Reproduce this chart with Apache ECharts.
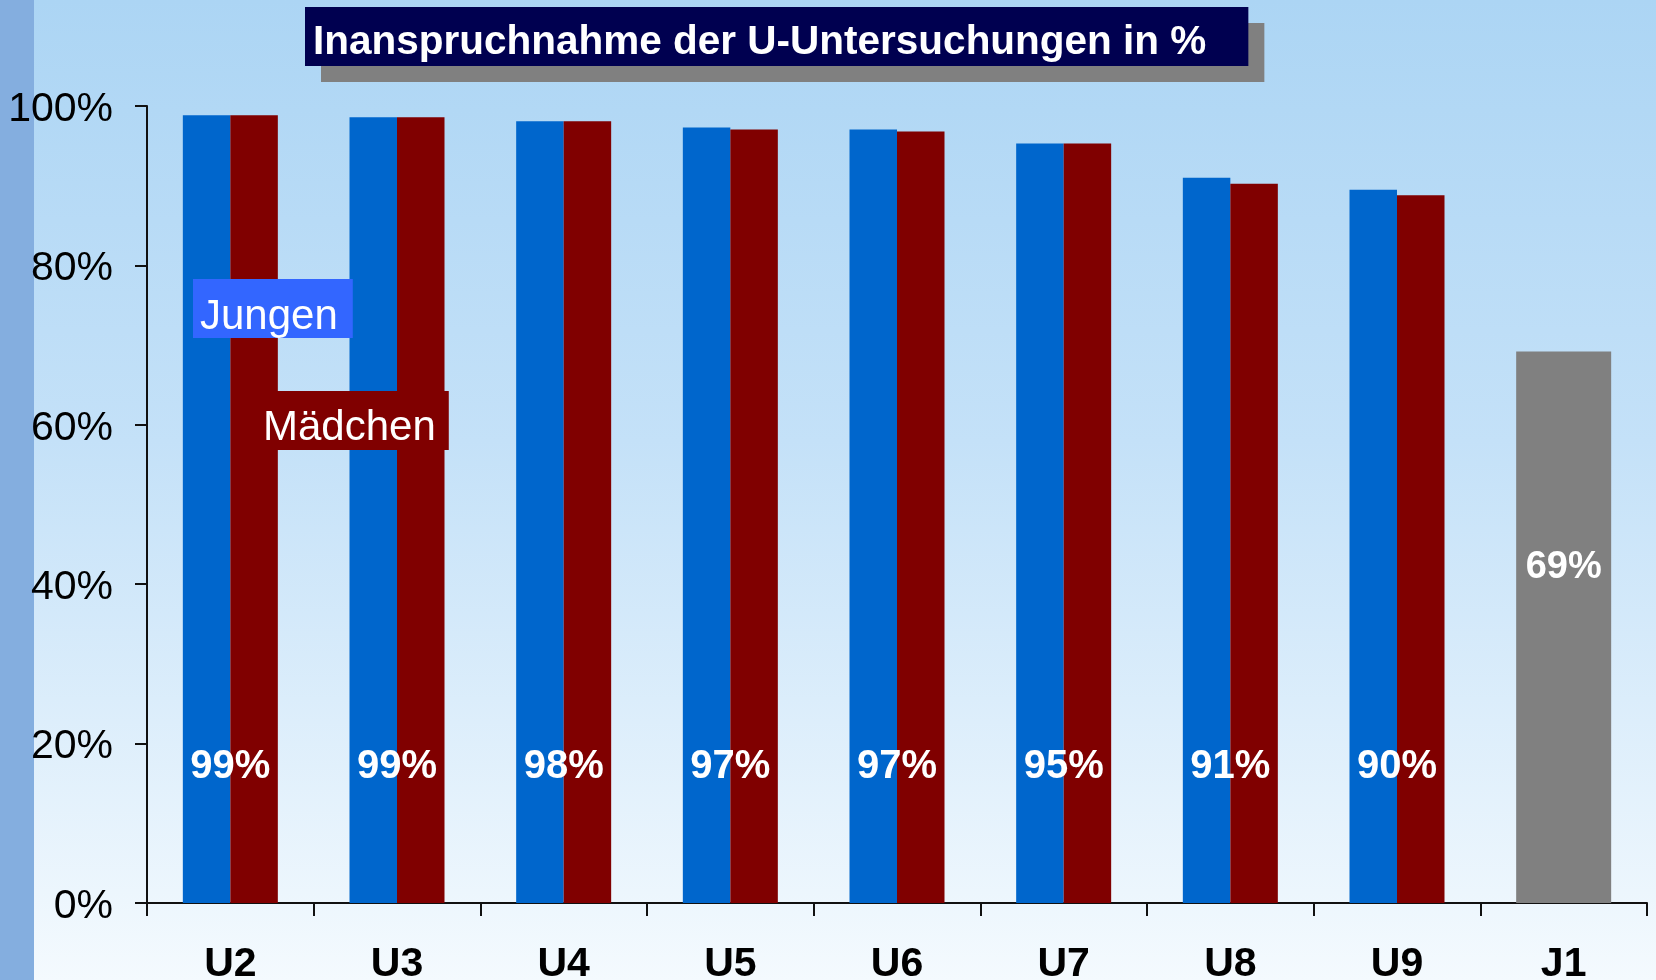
<!DOCTYPE html>
<html>
<head>
<meta charset="utf-8">
<script src="https://cdn.jsdelivr.net/npm/echarts@6/dist/echarts.min.js"></script>
<style>
  html, body { margin: 0; padding: 0; }
  body {
    width: 1656px; height: 980px; overflow: hidden;
    background:
      linear-gradient(to right, #84aedf 0px, #84aedf 34px, rgba(0,0,0,0) 34px),
      linear-gradient(to bottom, #acd5f4 0%, #c4e1f8 45%, #f4fafe 100%);
  }
  #chart { width: 1656px; height: 980px; }
</style>
</head>
<body>
<div id="chart"></div>
<script>
// ---- data ----
const titleText = 'Inanspruchnahme der U-Untersuchungen in %';
const categories = ['U2', 'U3', 'U4', 'U5', 'U6', 'U7', 'U8', 'U9', 'J1'];
const jungen   = [98.85, 98.6, 98.1, 97.3, 97.05, 95.3, 91.0, 89.5, null];
const maedchen = [98.85, 98.6, 98.1, 97.05, 96.8, 95.3, 90.25, 88.8, null];
const j1Values = [null, null, null, null, null, null, null, null, 69.2];
const labelValues = [99, 99, 98, 97, 97, 95, 91, 90, 69];
const yTicks = [0, 20, 40, 60, 80, 100];

const FONT = "'Liberation Sans', Arial, sans-serif";
const chart = echarts.init(document.getElementById('chart'), null, { renderer: 'canvas' });

const axisCommon = {
  type: 'category',
  data: categories,
  boundaryGap: true,
};

chart.setOption({
  backgroundColor: 'transparent',
  animation: false,
  title: {
    text: titleText,
    left: 305,
    top: 7,
    padding: [15, 42, 3, 8],
    backgroundColor: '#000050',
    shadowColor: '#808080',
    shadowBlur: 0,
    shadowOffsetX: 16,
    shadowOffsetY: 16,
    textStyle: { color: '#ffffff', fontSize: 40.5, fontWeight: 'bold', fontFamily: FONT }
  },
  legend: [
    {
      data: ['Jungen'], left: 193, top: 279, padding: [17, 15, 0, 2],
      backgroundColor: '#3366ff',
      itemWidth: 0, itemHeight: 0, icon: 'rect', selectedMode: false,
      textStyle: { color: '#ffffff', fontSize: 42, lineHeight: 42, fontFamily: FONT }
    },
    {
      data: ['Mädchen'], left: 257, top: 391, padding: [16, 13, 1, 1],
      backgroundColor: '#800000',
      itemWidth: 0, itemHeight: 0, icon: 'rect', selectedMode: false,
      textStyle: { color: '#ffffff', fontSize: 42, lineHeight: 42, fontFamily: FONT }
    }
  ],
  grid: { left: 147, right: 9, top: 106, bottom: 77, containLabel: false, outerBoundsMode: 'none' },
  xAxis: [
    Object.assign({}, axisCommon, {
      axisLine: { show: true, lineStyle: { color: '#111', width: 2 } },
      axisTick: { show: true, length: 13, lineStyle: { color: '#111', width: 2 } },
      axisLabel: { color: '#000', fontSize: 41, fontWeight: 'bold', fontFamily: FONT, margin: 41 },
      splitLine: { show: false }
    }),
    Object.assign({}, axisCommon, { show: false })
  ],
  yAxis: {
    type: 'value',
    min: 0, max: 100, interval: 20,
    axisLine: { show: true, lineStyle: { color: '#111', width: 2 } },
    axisTick: { show: true, length: 12, lineStyle: { color: '#111', width: 2 } },
    axisLabel: {
      color: '#000', fontSize: 41, fontFamily: FONT, margin: 34,
      verticalAlign: 'top', lineHeight: 7,
      formatter: function (v) { return yTicks.indexOf(v) >= 0 ? v + '%' : ''; }
    },
    splitLine: { show: false }
  },
  series: [
    {
      name: 'Jungen', type: 'bar', xAxisIndex: 0,
      data: jungen, barGap: '0%', barCategoryGap: '43%',
      itemStyle: { color: '#0066cc' }
    },
    {
      name: 'Mädchen', type: 'bar', xAxisIndex: 0,
      data: maedchen, barGap: '0%', barCategoryGap: '43%',
      itemStyle: { color: '#800000' },
      label: {
        show: true,
        position: ['0%', '100%'],
        align: 'center', verticalAlign: 'middle',
        offset: [0, -136],
        color: '#ffffff', fontSize: 40, fontWeight: 'bold', fontFamily: FONT,
        formatter: function (p) { return labelValues[p.dataIndex] + '%'; }
      }
    },
    {
      name: 'J1', type: 'bar', xAxisIndex: 1,
      data: j1Values, barCategoryGap: '43%',
      itemStyle: { color: '#808080' },
      label: {
        show: true,
        position: ['50%', '39.1%'],
        align: 'center', verticalAlign: 'middle',
        color: '#ffffff', fontSize: 38, fontWeight: 'bold', fontFamily: FONT,
        formatter: function (p) { return labelValues[p.dataIndex] + '%'; }
      }
    }
  ]
});
</script>
</body>
</html>
